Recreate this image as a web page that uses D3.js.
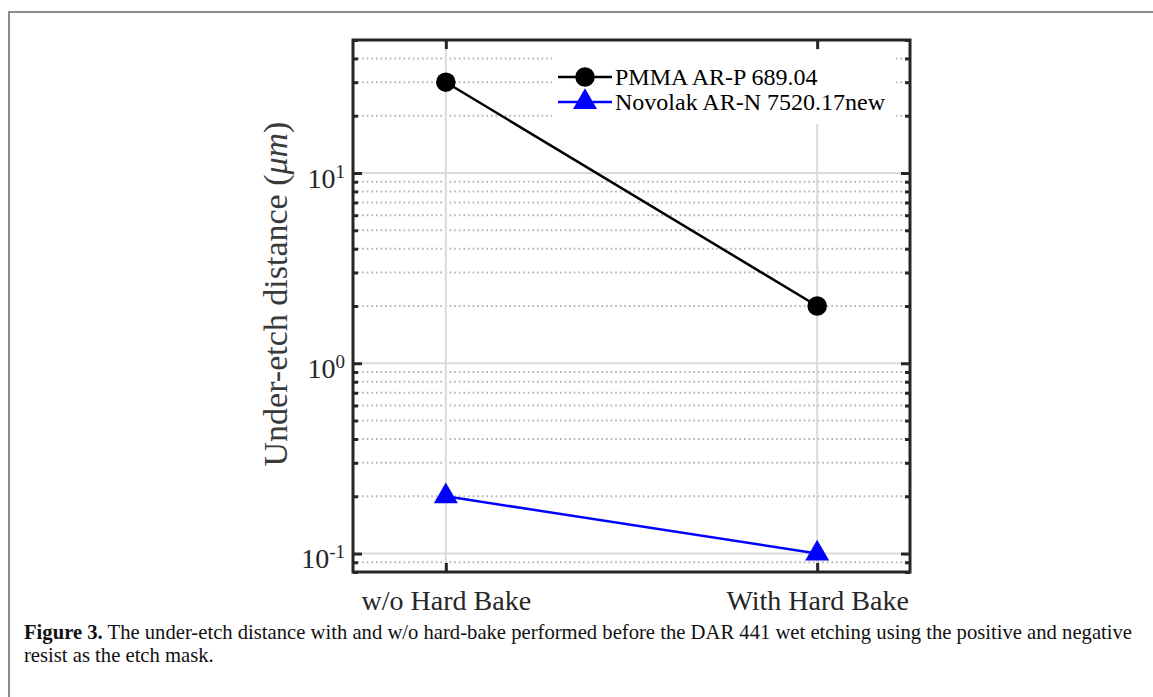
<!DOCTYPE html>
<html>
<head>
<meta charset="utf-8">
<script src="https://cdn.jsdelivr.net/npm/d3@7"></script>
<style>
  body { margin: 0; background: #fff; }
  svg { display: block; }
  svg text { font-family: "Liberation Serif", "Times New Roman", serif; }
</style>
</head>
<body>
<div id="container"></div>
<script>
const categories = ["w/o Hard Bake", "With Hard Bake"];
const pmmaValues = [30, 2];
const novolakValues = [0.2, 0.1];
const seriesNames = ["PMMA AR-P 689.04", "Novolak AR-N 7520.17new"];
const majorTicks = [0.1, 1, 10];
const minorTicks = [0.08, 0.09, 0.2, 0.3, 0.4, 0.5, 0.6, 0.7, 0.8, 0.9,
  2, 3, 4, 5, 6, 7, 8, 9, 20, 30, 40, 50];
const yDomain = [0.08, 50];
const captionBold = "Figure 3.";
const captionLine1 = " The under-etch distance with and w/o hard-bake performed before the DAR 441 wet etching using the positive and negative";
const captionLine2 = "resist as the etch mask.";

const W = 1153, H = 697;
const plot = { left: 353, top: 40, right: 910, bottom: 572 };
const serif = "'Liberation Serif', 'Times New Roman', serif";

const svg = d3.select("#container")
  .append("svg")
  .attr("width", W)
  .attr("height", H)
  .attr("font-family", serif);

// outer figure frame (only top and left visible)
svg.append("path")
  .attr("d", `M9,${H} V12 H${W}`)
  .attr("fill", "none")
  .attr("stroke", "#8c8c8c")
  .attr("stroke-width", 2);

const x = d3.scalePoint()
  .domain(categories)
  .range([plot.left, plot.right])
  .padding(0.25);

const y = d3.scaleLog()
  .domain(yDomain)
  .range([plot.bottom, plot.top]);

//GRID
const grid = svg.append("g");
grid.selectAll(".minor")
  .data(minorTicks.filter(d => d > yDomain[0] && d < yDomain[1]))
  .enter()
  .append("line")
  .attr("x1", plot.left).attr("x2", plot.right)
  .attr("y1", d => y(d)).attr("y2", d => y(d))
  .attr("stroke", "#b3b3b3")
  .attr("stroke-width", 2)
  .attr("stroke-dasharray", "1.6 3");
grid.selectAll(".major")
  .data(majorTicks)
  .enter()
  .append("line")
  .attr("x1", plot.left).attr("x2", plot.right)
  .attr("y1", d => y(d)).attr("y2", d => y(d))
  .attr("stroke", "#dadada")
  .attr("stroke-width", 2);
grid.selectAll(".vert")
  .data(categories)
  .enter()
  .append("line")
  .attr("x1", d => x(d)).attr("x2", d => x(d))
  .attr("y1", plot.top).attr("y2", plot.bottom)
  .attr("stroke", "#dadada")
  .attr("stroke-width", 2);

//AXES
const axisColor = "#262626";
function styleAxis(g) {
  g.attr("font-family", serif);
  g.select(".domain").remove();
  g.selectAll("line").attr("stroke", axisColor).attr("stroke-width", 3);
}

// left: major ticks with labels
const yAxis = d3.axisLeft(y)
  .tickValues(majorTicks)
  .tickSize(-9)
  .tickPadding(8)
  .tickFormat("");
svg.append("g")
  .attr("transform", `translate(${plot.left},0)`)
  .call(yAxis)
  .call(styleAxis)
  .selectAll("text")
  .attr("fill", axisColor)
  .attr("font-size", 28)
  .attr("dy", 14)
  .each(function(d) {
    const t = d3.select(this);
    t.append("tspan").text("10");
    t.append("tspan").attr("dy", -10).attr("font-size", 19).text(Math.round(Math.log10(d)));
  });
// left minor ticks
svg.append("g")
  .attr("transform", `translate(${plot.left},0)`)
  .call(d3.axisLeft(y).tickValues(minorTicks).tickSize(-5).tickFormat(""))
  .call(styleAxis);
// right ticks
svg.append("g")
  .attr("transform", `translate(${plot.right},0)`)
  .call(d3.axisRight(y).tickValues(majorTicks).tickSize(-9).tickFormat(""))
  .call(styleAxis);
svg.append("g")
  .attr("transform", `translate(${plot.right},0)`)
  .call(d3.axisRight(y).tickValues(minorTicks).tickSize(-5).tickFormat(""))
  .call(styleAxis);
// bottom
svg.append("g")
  .attr("transform", `translate(0,${plot.bottom})`)
  .call(d3.axisBottom(x).tickSize(-9).tickPadding(30))
  .call(styleAxis)
  .selectAll("text")
  .attr("fill", axisColor)
  .attr("font-size", 28)
  .attr("dy", 0)
  .attr("y", 38);
// top
svg.append("g")
  .attr("transform", `translate(0,${plot.top})`)
  .call(d3.axisTop(x).tickSize(-9).tickFormat(""))
  .call(styleAxis);

// y label
const yLabel = svg.append("text")
  .attr("transform", `translate(287,${(plot.top + plot.bottom) / 2 - 12}) rotate(-90)`)
  .attr("text-anchor", "middle")
  .attr("font-family", serif)
  .attr("font-size", 34)
  .attr("fill", "#3a3a3a");
yLabel.append("tspan").text("Under-etch distance (");
yLabel.append("tspan").attr("font-style", "italic").text("μm");
yLabel.append("tspan").text(")");

//SERIES
const series = [
  { name: seriesNames[0], values: pmmaValues, color: "#000000", symbol: d3.symbolCircle, size: 300 },
  { name: seriesNames[1], values: novolakValues, color: "#0000ff", symbol: d3.symbolTriangle, size: 250 }
];
const line = d3.line()
  .x(d => x(d.cat))
  .y(d => y(d.v));

series.forEach(s => {
  const pts = s.values.map((v, i) => ({ cat: categories[i], v: v }));
  svg.append("path")
    .datum(pts)
    .attr("d", line)
    .attr("fill", "none")
    .attr("stroke", s.color)
    .attr("stroke-width", 2.5);
  svg.selectAll(null)
    .data(pts)
    .enter()
    .append("path")
    .attr("transform", d => `translate(${x(d.cat)},${y(d.v)})`)
    .attr("d", d3.symbol(s.symbol, s.size))
    .attr("fill", s.color);
});

//LEGEND (white background, no outline)
const legend = svg.append("g").attr("transform", "translate(558,77)");
legend.append("rect")
  .attr("x", -6).attr("y", -27).attr("width", 344).attr("height", 74)
  .attr("fill", "#fff");
series.forEach((s, i) => {
  const g = legend.append("g").attr("transform", `translate(0,${i * 25})`);
  g.append("line")
    .attr("x1", 0).attr("x2", 54)
    .attr("stroke", s.color).attr("stroke-width", 2.5);
  g.append("path")
    .attr("transform", "translate(27,0)")
    .attr("d", d3.symbol(s.symbol, s.size))
    .attr("fill", s.color);
  g.append("text")
    .attr("x", 57).attr("y", 8)
    .attr("font-family", serif)
    .attr("font-size", 24)
    .attr("fill", "#000")
    .text(s.name);
});

// frame
svg.append("rect")
  .attr("x", plot.left).attr("y", plot.top)
  .attr("width", plot.right - plot.left)
  .attr("height", plot.bottom - plot.top)
  .attr("fill", "none")
  .attr("stroke", axisColor)
  .attr("stroke-width", 3);

//CAPTION
const cap1 = svg.append("text")
  .attr("x", 24).attr("y", 639)
  .attr("font-family", serif)
  .attr("font-size", 21)
  .attr("fill", "#111");
cap1.append("tspan").attr("font-weight", "bold").text(captionBold);
cap1.append("tspan").text(captionLine1);
const cap2 = svg.append("text")
  .attr("x", 24).attr("y", 662)
  .attr("font-family", serif)
  .attr("font-size", 21)
  .attr("fill", "#111")
  .text(captionLine2);
const natural = cap1.node().getComputedTextLength();
const ratio = 1108 / natural;
cap1.attr("textLength", 1108).attr("lengthAdjust", "spacingAndGlyphs");
cap2.attr("textLength", cap2.node().getComputedTextLength() * ratio)
  .attr("lengthAdjust", "spacingAndGlyphs");
</script>
</body>
</html>
